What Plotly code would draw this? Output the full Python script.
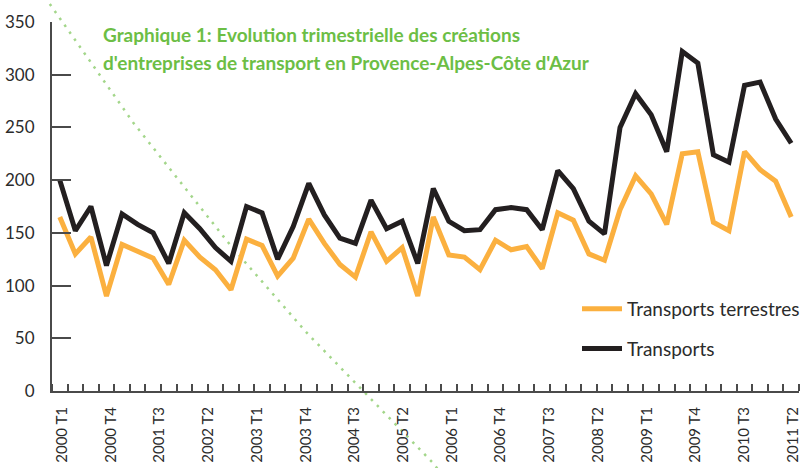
import plotly.graph_objects as go

# ---- data ----
quarter_index = list(range(48))
transports = [200, 152, 175, 119, 168, 158, 150, 121, 169, 154,
              136, 123, 175, 169, 125, 156, 197, 167, 145, 140,
              181, 154, 161, 121, 192, 161, 152, 153, 172, 174,
              172, 153, 209, 192, 161, 149, 250, 282, 262, 227,
              322, 311, 224, 217, 290, 293, 258, 235]
terrestres = [165, 130, 146, 90, 139, 132, 126, 101, 143, 127,
              115, 96, 144, 138, 109, 126, 163, 140, 120, 108,
              151, 123, 136, 90, 165, 129, 127, 115, 143, 134,
              137, 116, 169, 162, 130, 124, 172, 204, 187, 158,
              225, 227, 160, 152, 227, 210, 199, 165]
tick_labels = ["2000 T1", "2000 T4", "2001 T3", "2002 T2", "2003 T1", "2003 T4",
               "2004 T3", "2005 T2", "2006 T1", "2006 T4", "2007 T3", "2008 T2",
               "2009 T1", "2009 T4", "2010 T3", "2011 T2"]
y_ticks = [0, 50, 100, 150, 200, 250, 300, 350]
title_lines = ["Graphique 1: Evolution trimestrielle des créations",
               "d'entreprises de transport en Provence-Alpes-Côte d'Azur"]

# ---- layout geometry ----
W, H = 805, 468
ML, MR, MT, MB = 52, 6, 22, 77
PW, PH = W - ML - MR, H - MT - MB

def px_to_paper(px, py):
    return (px - ML) / PW, (H - MB - py) / PH

tick_pos = [0.15 + k * (46.95 / 15) for k in range(len(tick_labels))]

AX = "#4a4a4a"
TXT = "#2b2b2b"
FONT = "Lato, 'Open Sans', sans-serif"

fig = go.Figure()
fig.add_trace(go.Scatter(x=quarter_index, y=terrestres, mode="lines",
                         name="Transports terrestres", legendgroup="a",
                         line=dict(color="#FBB03F", width=5)))
fig.add_trace(go.Scatter(x=quarter_index, y=transports, mode="lines",
                         name="Transports", legendgroup="b",
                         line=dict(color="#231F20", width=5)))

# decorative dotted arc
pts = [(44.9, -3), (47.7, 1), (133.3, 122.7), (231, 246), (306.7, 332.7),
       (433.3, 463.3), (440, 472)]
pp = [px_to_paper(a, b) for a, b in pts]
path = "M " + " L ".join(f"{x:.5f},{y:.5f}" for x, y in pp)
fig.add_shape(type="path", path=path, xref="paper", yref="paper",
              line=dict(color="#A3D68A", width=2.5, dash="2.5px,6px"),
              layer="below")

for line_text, cy in zip(title_lines, [35, 62]):
    tx, ty = px_to_paper(101, cy)
    fig.add_annotation(
        text=line_text, xref="paper", yref="paper", x=tx, y=ty,
        xanchor="left", yanchor="middle", align="left", showarrow=False,
        font=dict(family=FONT, size=19, color="#6CBE45", weight="bold"))

fig.update_layout(
    width=W, height=H,
    margin=dict(l=ML, r=MR, t=MT, b=MB, autoexpand=False),
    paper_bgcolor="white", plot_bgcolor="rgba(0,0,0,0)",
    font=dict(family=FONT, color=TXT),
    showlegend=True,
    legend=dict(x=px_to_paper(577, 0)[0], y=px_to_paper(0, 290)[1],
                xanchor="left", yanchor="top", bgcolor="rgba(0,0,0,0)",
                font=dict(family=FONT, size=19, color=TXT),
                itemwidth=40, tracegroupgap=12),
    xaxis=dict(range=[-0.5, 47.5], showgrid=False, zeroline=False,
               automargin=False,
               showline=True, linecolor=AX, linewidth=2,
               tickmode="array", tickvals=tick_pos, ticktext=tick_labels,
               tickangle=-90, ticks="", ticklabelstandoff=8,
               tickfont=dict(family=FONT, size=15, color=TXT),
               minor=dict(ticks="inside", ticklen=7, tickwidth=1.5,
                          tickcolor=AX, tickmode="linear", tick0=-0.5, dtick=1)),
    yaxis=dict(range=[0, 350], showgrid=False, zeroline=False,
               automargin=False,
               showline=True, linecolor=AX, linewidth=2,
               tickmode="array", tickvals=y_ticks,
               ticks="inside", ticklen=19, tickwidth=2, tickcolor=AX,
               ticklabelstandoff=12,
               tickfont=dict(family=FONT, size=17, color=TXT)),
)

fig.write_html("out.html", config={"displayModeBar": False},
               post_script="document.body.style.margin='0';document.body.style.overflow='hidden';")
